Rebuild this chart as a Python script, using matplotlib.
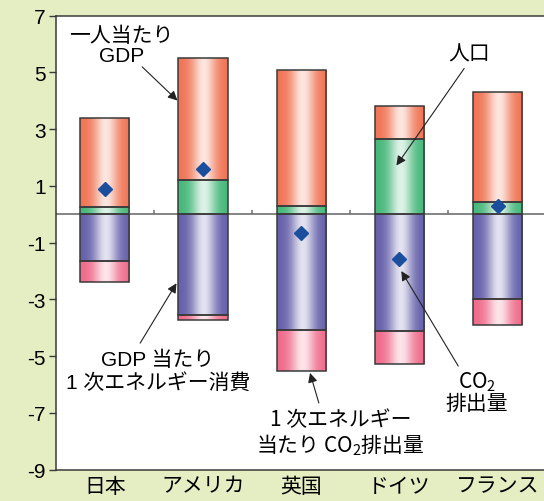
import numpy as np
import matplotlib.pyplot as plt
from matplotlib.colors import to_rgb

plt.rcParams['font.family'] = ['Liberation Sans', 'Noto Sans CJK JP', 'DejaVu Sans']
plt.rcParams['mathtext.fontset'] = 'custom'
plt.rcParams['mathtext.rm'] = 'Noto Sans CJK JP'
plt.rcParams['mathtext.it'] = 'Noto Sans CJK JP'
plt.rcParams['axes.unicode_minus'] = False

# Factor decomposition of CO2 emission change (percent)
countries = ['日本', 'アメリカ', '英国', 'ドイツ', 'フランス']
population = [0.27, 1.21, 0.28, 2.64, 0.42]
gdp_per_capita = [3.13, 4.30, 4.80, 1.18, 3.88]
energy_per_gdp = [-1.66, -3.56, -4.09, -4.10, -2.98]
co2_per_energy = [-0.73, -0.17, -1.42, -1.17, -0.91]
co2_total = [0.91, 1.59, -0.67, -1.57, 0.29]

bg = '#E5EDC3'
edge = '#3a3a3a'
fig = plt.figure(figsize=(5.44, 5.02), dpi=100, facecolor=bg)
ax = fig.add_axes([0.1024, 0.0624, 0.8976, 0.9043])
ax.set_facecolor('white')

x = np.arange(len(countries))
width = 0.5


def shaded_bars(bottom, height, color):
    bars = ax.bar(x, height, width, bottom=bottom, color=color,
                  edgecolor='none', zorder=1)
    base = np.array(to_rgb(color))
    t = np.linspace(0, 1, 200)
    glow = 0.82 * np.exp(-((t - 0.52) / 0.24) ** 2)
    grad = base[None, :] + (1 - base[None, :]) * glow[:, None]
    grad = grad[None, :, :]
    for b in bars:
        x0, y0 = b.get_x(), b.get_y()
        im = ax.imshow(grad, extent=(x0, x0 + b.get_width(), y0, y0 + b.get_height()),
                       aspect='auto', zorder=2, interpolation='bilinear')
        im.set_clip_path(b)
    ax.bar(x, height, width, bottom=bottom, fill=False,
           edgecolor=edge, linewidth=1.1, zorder=3)


shaded_bars(0, population, '#45B77A')
shaded_bars(population, gdp_per_capita, '#F07454')
shaded_bars(0, energy_per_gdp, '#6560AA')
shaded_bars(energy_per_gdp, co2_per_energy, '#EF6B8B')

ax.plot(x, co2_total, linestyle='none', marker='D', markersize=7,
        color='#1B4F9E', zorder=4)

ax.axhline(0, color='#707070', linewidth=1.2, zorder=0)
ax.vlines(x[:-1] + 0.5, 0, 0.15, color='#707070', linewidth=1.1, zorder=0)

ax.set_xlim(-0.5, 4.473)
ax.set_ylim(-9, 7)
ax.set_yticks([7, 5, 3, 1, -1, -3, -5, -7, -9])
ax.set_xticks(x)
ax.set_xticklabels(countries)
ax.tick_params(axis='y', direction='out', length=5, width=1, color=edge,
               labelsize=15, pad=2)
ax.tick_params(axis='x', length=0, labelsize=15, pad=5)
for s in ['left', 'top', 'bottom']:
    ax.spines[s].set_color(edge)
    ax.spines[s].set_linewidth(1.1)
ax.spines['right'].set_visible(False)

arrow = dict(arrowstyle='-|>', color='#222222', lw=0.8, mutation_scale=14,
             shrinkA=0, shrinkB=0)
fs = 15

ax.text(0.17, 5.96, '一人当たり\nGDP', ha='center', va='center', fontsize=fs,
        linespacing=1.1)
ax.annotate('', xy=(0.74, 4.01), xytext=(0.38, 5.2), arrowprops=arrow)

ax.text(3.71, 5.66, '人口', ha='center', va='center', fontsize=fs)
ax.annotate('', xy=(2.97, 1.72), xytext=(3.66, 5.14), arrowprops=arrow)

ax.text(0.54, -5.52, 'GDP 当たり\n1 次エネルギー消費', ha='center', va='center',
        fontsize=fs, linespacing=1.15)
ax.annotate('', xy=(0.73, -2.43), xytext=(0.36, -4.54), arrowprops=arrow)

ax.text(2.40, -7.69, '1 次エネルギー\n当たり CO$_2$排出量', ha='center', va='center',
        fontsize=fs, linespacing=1.05, family='Noto Sans CJK JP')
ax.annotate('', xy=(2.09, -5.59), xytext=(2.18, -6.65), arrowprops=arrow)

ax.text(3.79, -6.26, 'CO$_2$\n排出量', ha='center', va='center', fontsize=fs,
        linespacing=0.95, family='Noto Sans CJK JP')
ax.annotate('', xy=(3.02, -2.0), xytext=(3.60, -5.35), arrowprops=arrow)

fig.savefig('out.png', dpi=100, facecolor=bg)
